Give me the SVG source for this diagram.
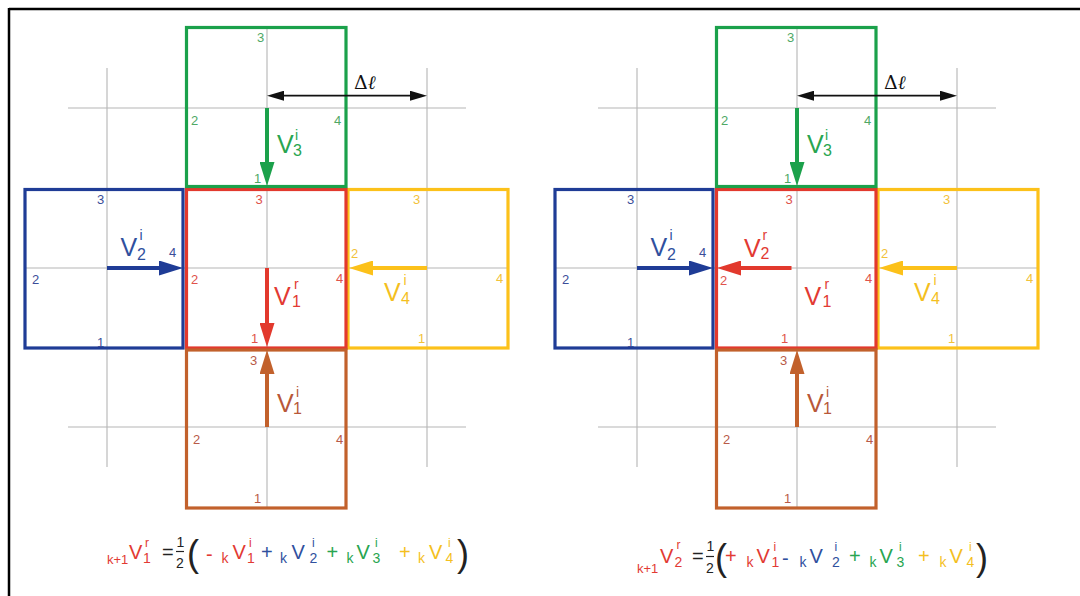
<svg xmlns="http://www.w3.org/2000/svg" width="1080" height="596" viewBox="0 0 1080 596">
<style>
text{font-family:"Liberation Sans",Arial,sans-serif}
.grid{stroke:#b5b5b5;stroke-width:1.1;fill:none}
.box{fill:none;stroke-width:3.2}
.arr{stroke-width:4;fill:none}
.num{font-size:13px}
.V{font-size:25px}
.sub{font-size:16px}
.sup{font-size:14px}
.eV{font-size:20px}
.ek{font-size:14px}
.ek1{font-size:13px}
.es{font-size:12px}
.op{font-size:20px}
.par{font-size:36px;fill:#222}
.dl{font-family:"DejaVu Serif",serif;font-size:19px;fill:#111}
.g{fill:#28a550}.gs{stroke:#1ba14b}.gn{fill:#4fa865}
.b{fill:#30509e}.bs{stroke:#1f3c96}.bn{fill:#3b4d99}
.r{fill:#e23a33}.rs{stroke:#e2392d}.rn{fill:#e0524b}
.y{fill:#f4bf1f}.ys{stroke:#fcc11a}.yn{fill:#f2c23a}
.o{fill:#b85838}.os{stroke:#c2612c}.on{fill:#b85a48}
.k{fill:#222}
</style>
<defs>
<marker id="hG" markerUnits="userSpaceOnUse" markerWidth="24" markerHeight="15" refX="1" refY="7.5" orient="auto"><path d="M0,0 L24,7.5 L0,15 z" fill="#1ba14b"/></marker>
<marker id="hB" markerUnits="userSpaceOnUse" markerWidth="24" markerHeight="15" refX="1" refY="7.5" orient="auto"><path d="M0,0 L24,7.5 L0,15 z" fill="#1f3c96"/></marker>
<marker id="hR" markerUnits="userSpaceOnUse" markerWidth="24" markerHeight="15" refX="1" refY="7.5" orient="auto"><path d="M0,0 L24,7.5 L0,15 z" fill="#e2392d"/></marker>
<marker id="hY" markerUnits="userSpaceOnUse" markerWidth="24" markerHeight="15" refX="1" refY="7.5" orient="auto"><path d="M0,0 L24,7.5 L0,15 z" fill="#fcc11a"/></marker>
<marker id="hO" markerUnits="userSpaceOnUse" markerWidth="24" markerHeight="15" refX="1" refY="7.5" orient="auto"><path d="M0,0 L24,7.5 L0,15 z" fill="#c2612c"/></marker>
<marker id="hK" markerUnits="userSpaceOnUse" markerWidth="17" markerHeight="10" refX="1" refY="5" orient="auto-start-reverse"><path d="M0,0 L17,5 L0,10 z" fill="#111"/></marker>
</defs>
<rect width="1080" height="596" fill="#fff"/>
<g id="frame" stroke="#000" stroke-width="2.5">
<line x1="9" y1="9" x2="1080" y2="9"/>
<line x1="9" y1="8" x2="9" y2="596"/>
</g>

<g id="left">
<g id="grid-left" class="grid">
<line x1="107" y1="68" x2="107" y2="467"/>
<line x1="427" y1="68" x2="427" y2="467"/>
<line x1="267" y1="27" x2="267" y2="508"/>
<line x1="68" y1="108" x2="466" y2="108"/>
<line x1="25" y1="268" x2="508" y2="268"/>
<line x1="68" y1="427" x2="466" y2="427"/>
</g>
<g id="cell-blue-left">
<rect class="box bs" x="25" y="189.5" width="158" height="158.5"/>
<text class="num bn" x="97" y="204">3</text><text class="num bn" x="169" y="257">4</text><text class="num bn" x="32" y="284">2</text><text class="num bn" x="97" y="346.5">1</text>
</g>
<g id="cell-yellow-left">
<rect class="box ys" x="348" y="189.5" width="160" height="158.5"/>
<text class="num yn" x="413" y="204">3</text><text class="num yn" x="351" y="258">2</text><text class="num yn" x="496" y="283">4</text><text class="num yn" x="418" y="343">1</text>
</g>
<g id="cell-red-left">
<rect class="box rs" x="186.5" y="189.5" width="159.5" height="158.5"/>
<text class="num rn" x="255.5" y="204">3</text><text class="num rn" x="191" y="284">2</text><text class="num rn" x="336" y="283">4</text><text class="num rn" x="251" y="342.5">1</text>
</g>
<g id="cell-green-left">
<rect class="box gs" x="186.5" y="27.5" width="159.5" height="159"/>
<text class="num gn" x="257" y="41.5">3</text><text class="num gn" x="191" y="125">2</text><text class="num gn" x="334" y="125">4</text><text class="num gn" x="254" y="182.5">1</text>
</g>
<g id="cell-brown-left">
<rect class="box os" x="186.5" y="350" width="159.5" height="158"/>
<text class="num on" x="250" y="365">3</text><text class="num on" x="193" y="444">2</text><text class="num on" x="336" y="444">4</text><text class="num on" x="254" y="503">1</text>
</g>
<g id="connectors-left">
<line x1="283" y1="95.7" x2="411" y2="95.7" stroke="#111" stroke-width="1.8" marker-start="url(#hK)" marker-end="url(#hK)"/>
<line class="arr gs" x1="267" y1="108" x2="267" y2="163" marker-end="url(#hG)"/>
<line class="arr bs" x1="107" y1="268" x2="160" y2="268" marker-end="url(#hB)"/>
<line class="arr rs" x1="267" y1="268" x2="267" y2="324" marker-end="url(#hR)"/>
<line class="arr ys" x1="427" y1="268" x2="372" y2="268" marker-end="url(#hY)"/>
<line class="arr os" x1="267" y1="427" x2="267" y2="373" marker-end="url(#hO)"/>
</g>
<g id="labels-left">
<text class="dl" x="354" y="89">Δ<tspan font-style="italic">ℓ</tspan></text>
<text class="V g" x="277" y="153.3">V</text><text class="sub g" x="293" y="156">3</text><text class="sup g" x="295" y="139.5">i</text>
<text class="V b" x="120.5" y="256">V</text><text class="sub b" x="137" y="260">2</text><text class="sup b" x="139.5" y="239.5">i</text>
<text class="V r" x="274" y="305">V</text><text class="sub r" x="292" y="306.7">1</text><text class="sup r" x="294" y="289">r</text>
<text class="V y" x="384" y="300.7">V</text><text class="sub y" x="401" y="304">4</text><text class="sup y" x="403.5" y="284.5">i</text>
<text class="V o" x="277" y="411.7">V</text><text class="sub o" x="293" y="414">1</text><text class="sup o" x="296" y="396.5">i</text>
</g>
</g>

<g id="right" transform="translate(530,0)">
<g id="grid-right" class="grid">
<line x1="107" y1="68" x2="107" y2="467"/>
<line x1="427" y1="68" x2="427" y2="467"/>
<line x1="267" y1="27" x2="267" y2="508"/>
<line x1="68" y1="108" x2="466" y2="108"/>
<line x1="25" y1="268" x2="508" y2="268"/>
<line x1="68" y1="427" x2="466" y2="427"/>
</g>
<g id="cell-blue-right">
<rect class="box bs" x="25" y="189.5" width="158" height="158.5"/>
<text class="num bn" x="97" y="204">3</text><text class="num bn" x="169" y="257">4</text><text class="num bn" x="32" y="284">2</text><text class="num bn" x="97" y="346.5">1</text>
</g>
<g id="cell-yellow-right">
<rect class="box ys" x="348" y="189.5" width="160" height="158.5"/>
<text class="num yn" x="413" y="204">3</text><text class="num yn" x="351" y="258">2</text><text class="num yn" x="496" y="283">4</text><text class="num yn" x="418" y="343">1</text>
</g>
<g id="cell-red-right">
<rect class="box rs" x="186.5" y="189.5" width="159.5" height="158.5"/>
<text class="num rn" x="255.5" y="204">3</text><text class="num rn" x="190" y="285">2</text><text class="num rn" x="335" y="283">4</text><text class="num rn" x="251" y="342.5">1</text>
</g>
<g id="cell-green-right">
<rect class="box gs" x="186.5" y="27.5" width="159.5" height="159"/>
<text class="num gn" x="257" y="41.5">3</text><text class="num gn" x="191" y="125">2</text><text class="num gn" x="334" y="125">4</text><text class="num gn" x="254" y="182.5">1</text>
</g>
<g id="cell-brown-right">
<rect class="box os" x="186.5" y="350" width="159.5" height="158"/>
<text class="num on" x="250" y="365">3</text><text class="num on" x="193" y="444">2</text><text class="num on" x="336" y="444">4</text><text class="num on" x="254" y="503">1</text>
</g>
<g id="connectors-right">
<line x1="283" y1="95.7" x2="411" y2="95.7" stroke="#111" stroke-width="1.8" marker-start="url(#hK)" marker-end="url(#hK)"/>
<line class="arr gs" x1="267" y1="108" x2="267" y2="163" marker-end="url(#hG)"/>
<line class="arr bs" x1="107" y1="268" x2="160" y2="268" marker-end="url(#hB)"/>
<line class="arr rs" x1="261.5" y1="268" x2="210" y2="268" marker-end="url(#hR)"/>
<line class="arr ys" x1="427" y1="268" x2="372" y2="268" marker-end="url(#hY)"/>
<line class="arr os" x1="267" y1="427" x2="267" y2="373" marker-end="url(#hO)"/>
</g>
<g id="labels-right">
<text class="dl" x="354" y="89">Δ<tspan font-style="italic">ℓ</tspan></text>
<text class="V g" x="277" y="153.3">V</text><text class="sub g" x="293" y="156">3</text><text class="sup g" x="295" y="139.5">i</text>
<text class="V b" x="120.5" y="256">V</text><text class="sub b" x="137" y="260">2</text><text class="sup b" x="139.5" y="239.5">i</text>
<text class="V r" x="214" y="256.5">V</text><text class="sub r" x="230.5" y="259">2</text><text class="sup r" x="232.5" y="240">r</text>
<text class="V r" x="274.5" y="305">V</text><text class="sub r" x="292.5" y="306.7">1</text><text class="sup r" x="294.5" y="289">r</text>
<text class="V y" x="384" y="300.7">V</text><text class="sub y" x="401" y="304">4</text><text class="sup y" x="403.5" y="284.5">i</text>
<text class="V o" x="277" y="411.7">V</text><text class="sub o" x="293" y="414">1</text><text class="sup o" x="296" y="396.5">i</text>
</g>
</g>

<g id="equation-left">
<text class="ek1 r" x="107" y="564">k+1</text>
<text class="eV r" x="129" y="559">V</text><text class="ek r" x="143" y="563">1</text><text class="es r" x="145" y="547">r</text>
<text class="op k" x="162" y="559">=</text>
<text class="ek k" x="176.5" y="547">1</text><line x1="176" y1="551.5" x2="184" y2="551.5" stroke="#222" stroke-width="1.2"/><text class="ek k" x="176" y="568">2</text>
<text class="par" x="187" y="565.5">(</text>
<text class="op r" x="206" y="561">-</text>
<text class="ek r" x="221.5" y="563">k</text><text class="eV r" x="232.5" y="559">V</text><text class="ek r" x="247" y="563">1</text><text class="es r" x="249" y="547">i</text>
<text class="op b" x="261" y="558.5">+</text>
<text class="ek b" x="280" y="563">k</text><text class="eV b" x="291.5" y="559">V</text><text class="ek b" x="309.5" y="563">2</text><text class="es b" x="312" y="547">i</text>
<text class="op g" x="326.5" y="558.5">+</text>
<text class="ek g" x="346.5" y="563">k</text><text class="eV g" x="356.5" y="559">V</text><text class="ek g" x="372.5" y="563">3</text><text class="es g" x="375" y="547">i</text>
<text class="op y" x="399" y="558.5">+</text>
<text class="ek y" x="418" y="563">k</text><text class="eV y" x="429" y="559">V</text><text class="ek y" x="445.5" y="563">4</text><text class="es y" x="448" y="547">i</text>
<text class="par" x="457" y="565.5">)</text>
</g>

<g id="equation-right">
<text class="ek1 r" x="637" y="573">k+1</text>
<text class="eV r" x="660" y="563">V</text><text class="ek r" x="674.5" y="567">2</text><text class="es r" x="676.5" y="549">r</text>
<text class="op k" x="692" y="563">=</text>
<text class="ek k" x="706.5" y="551">1</text><line x1="706" y1="556.5" x2="714" y2="556.5" stroke="#222" stroke-width="1.2"/><text class="ek k" x="706" y="573">2</text>
<text class="par" x="715" y="569.5">(</text>
<text class="op r" x="725" y="563">+</text>
<text class="ek r" x="746.5" y="567">k</text><text class="eV r" x="756.5" y="563">V</text><text class="ek r" x="771.5" y="567">1</text><text class="es r" x="773.5" y="551">i</text>
<text class="op b" x="782" y="565">-</text>
<text class="ek b" x="799.5" y="567">k</text><text class="eV b" x="809.5" y="563">V</text><text class="ek b" x="832" y="567">2</text><text class="es b" x="834.5" y="551">i</text>
<text class="op g" x="849" y="563">+</text>
<text class="ek g" x="869.5" y="567">k</text><text class="eV g" x="879.5" y="563">V</text><text class="ek g" x="896.5" y="567">3</text><text class="es g" x="899" y="551">i</text>
<text class="op y" x="918" y="563">+</text>
<text class="ek y" x="939.5" y="567">k</text><text class="eV y" x="949.5" y="563">V</text><text class="ek y" x="966.5" y="567">4</text><text class="es y" x="969" y="551">i</text>
<text class="par" x="976" y="569.5">)</text>
</g>
</svg>
